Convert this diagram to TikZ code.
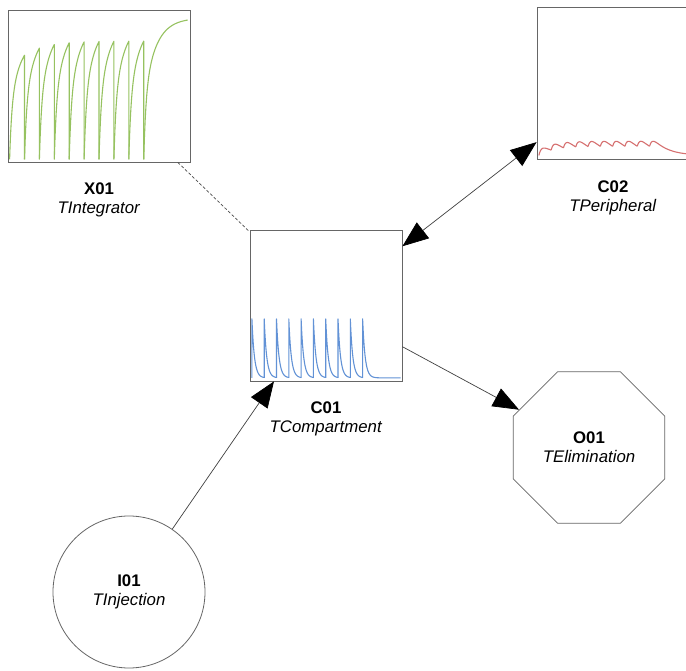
\documentclass[tikz,border=0pt]{standalone}
\usepackage{fontspec}
\setmainfont{Liberation Sans}
\usetikzlibrary{arrows.meta,positioning,shapes.geometric}

\definecolor{intgreen}{RGB}{150,194,96}
\definecolor{cmpblue}{RGB}{98,146,214}
\definecolor{perred}{RGB}{214,112,112}

\begin{document}
\begin{tikzpicture}[
  x=1pt, y=-1pt,
  font=\fontsize{16.8}{19}\selectfont,
  panel/.style={draw=black!60, line width=0.8pt, inner sep=0pt},
  octo/.style={draw=black!60, line width=0.8pt, regular polygon,
    regular polygon sides=8, minimum size=164pt, inner sep=0pt, align=center},
  disc/.style={draw=black!60, line width=0.8pt, circle, minimum size=152pt,
    inner sep=0pt, align=center},
  lbl/.style={align=center, inner sep=2pt},
  arr/.style={-{Triangle[length=26pt, width=20pt, color=black]},
    draw=black!75, line width=0.7pt},
  twoway/.style={{Triangle[length=26pt, width=20pt, color=black]}-{Triangle[length=26pt, width=20pt, color=black]},
    draw=black!75, line width=0.7pt},
  link/.style={draw=black!70, line width=0.7pt, dash pattern=on 3pt off 2pt},
  curve/.style={line width=1.1pt, line join=round}
]
\path[use as bounding box, fill=white] (0,0) rectangle (686,671);

% ── blocks ───────────────────────────────────────────────────────────────
\node[panel, minimum width=182pt, minimum height=152pt] (x01) at (99,86) {};
\node[panel, minimum width=152pt, minimum height=152pt] (c02) at (613,83) {};
\node[panel, minimum width=152pt, minimum height=151pt] (c01) at (326,305.5) {};
\node[octo] (o01) at (589,447.5) {\textbf{O01}\\\textit{TElimination}};
\node[disc] (i01) at (129,592) {\textbf{I01}\\\textit{TInjection}};

\node[lbl, below=18pt of x01] (x01lbl) {\textbf{X01}\\\textit{TIntegrator}};
\node[lbl, below=19pt of c02] (c02lbl) {\textbf{C02}\\\textit{TPeripheral}};
\node[lbl, below=18pt of c01] (c01lbl) {\textbf{C01}\\\textit{TCompartment}};

% ── traces ───────────────────────────────────────────────────────────────
\begin{scope}[shift={(x01.south west)}, y=1pt]
  \foreach \i in {0,...,8}{
    \pgfmathsetmacro\sc{1-0.12*exp(-0.7*\i)}
    \draw[curve, intgreen] plot[domain=0:14.9, samples=40]
      ({2+14.9*\i+\x}, {3+\sc*(61.8*(1-exp(-\x/2.2))+79.6*(1-exp(-\x/12)))})
      -- ({2+14.9*(\i+1)}, 3);
  }
  \draw[curve, intgreen] plot[domain=0:44, samples=60]
    ({136.1+\x}, {3+61.8*(1-exp(-\x/2.2))+79.6*(1-exp(-\x/12))});
\end{scope}

\begin{scope}[shift={(c01.south west)}, y=1pt]
  \foreach \i in {0,...,8}
    \draw[curve, cmpblue] ({2.3+12.3*\i}, 3.5) -- plot[domain=0:12.3, samples=30]
      ({2.3+12.3*\i+\x}, {3.5+59*exp(-\x/2.5)});
  \draw[curve, cmpblue] (113, 3.5) -- plot[domain=0:38, samples=50]
    ({113+\x}, {3.5+59*exp(-\x/2.5)});
\end{scope}

\begin{scope}[shift={(c02.south west)}, y=1pt]
  \foreach \i in {0,...,8}{
    \pgfmathsetmacro\ssum{(1-0.4153^(\i+1))/(1-0.4153)}
    \draw[curve, perred] plot[domain=0:12.3, samples=30]
      ({2.3+12.3*\i+\x}, {4+13*(\ssum*exp(-\x/14)-exp(-\x/2.5))});
  }
  \pgfmathsetmacro\ssum{(1-0.4153^10)/(1-0.4153)}
  \draw[curve, perred] plot[domain=0:38, samples=50]
    ({113+\x}, {4+13*(\ssum*exp(-\x/14)-exp(-\x/2.5))});
\end{scope}

% ── connectors ───────────────────────────────────────────────────────────
\draw[link] (x01) -- (c01);
\draw[twoway] (c01) -- (c02);
\draw[arr] (c01) -- (o01);
\draw[arr] (i01) -- (c01);

\end{tikzpicture}
\end{document}
